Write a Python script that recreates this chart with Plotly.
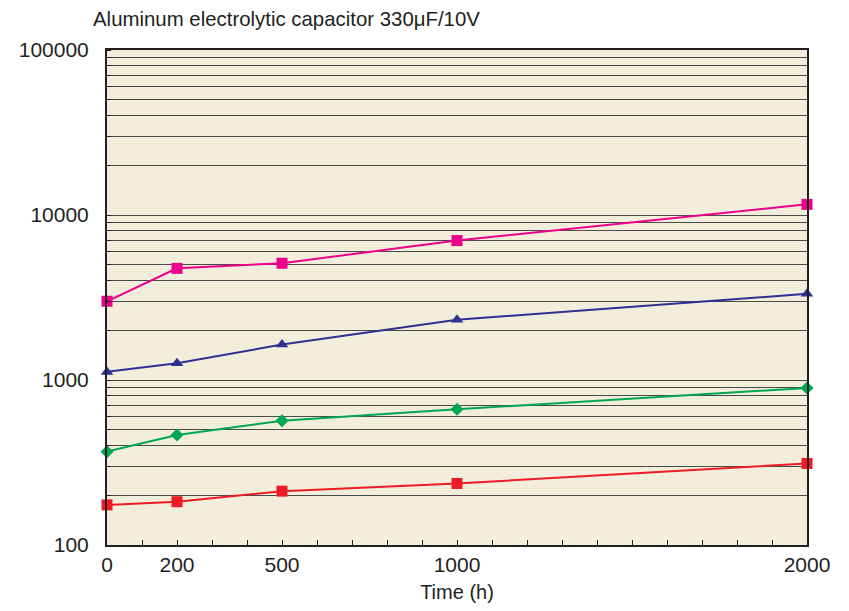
import plotly.graph_objects as go

time_h = [0, 200, 500, 1000, 2000]
series_magenta = [3000, 4750, 5100, 7000, 11600]
series_blue = [1120, 1265, 1640, 2320, 3330]
series_green = [368, 464, 566, 665, 895]
series_red = [175, 183, 212, 236, 312]

x_tick_vals = [0, 200, 500, 1000, 2000]
x_tick_text = ["0", "200", "500", "1000", "2000"]
y_tick_vals = [100, 1000, 10000, 100000]
y_tick_text = ["100", "1000", "10000", "100000"]

title_text = "Aluminum electrolytic capacitor 330μF/10V"
x_title = "Time (h)"

FONT = "Liberation Sans, Arial, Helvetica, sans-serif"
TXT = "#231F20"

# page body has an 8px default margin; compensate so the plot lands where the reference has it
W, H = 841, 603
OFF = 8

fig = go.Figure()

def add(y, color, symbol, size):
    fig.add_trace(go.Scatter(
        x=time_h, y=y, mode="lines+markers",
        line=dict(color=color, width=2),
        marker=dict(symbol=symbol, size=size, color=color, line=dict(width=0)),
        cliponaxis=False, showlegend=False,
    ))

add(series_magenta, "#EC008C", "square", 11)
add(series_blue, "#2E3192", "triangle-up", 11)
add(series_green, "#00A651", "diamond", 10)
add(series_red, "#ED1C24", "square", 11)

fig.update_layout(
    width=W, height=H,
    margin=dict(l=107 - OFF, r=42, t=50 - OFF, b=66, autoexpand=False),
    paper_bgcolor="white",
    plot_bgcolor="#F3EDDC",
    font=dict(family=FONT, size=21, color=TXT),
    title=dict(text=title_text, x=(93 - OFF) / W, xanchor="left", xref="container",
               y=1 - (19 - OFF) / H, yanchor="middle", pad=dict(l=0, r=0, t=0, b=0),
               font=dict(family=FONT, size=20.4, color=TXT)),
    showlegend=False,
)

fig.update_xaxes(
    range=[0, 2000], automargin=False,
    tickvals=x_tick_vals, ticktext=x_tick_text,
    ticks="inside", ticklen=5, tickcolor="#231F20", tickwidth=1,
    minor=dict(dtick=100, ticks="inside", ticklen=5, tickcolor="#231F20", tickwidth=1, showgrid=False),
    showgrid=False, zeroline=False,
    showline=True, linecolor="#231F20", linewidth=2, mirror=True,
    title=dict(text=x_title, standoff=10, font=dict(size=20)),
    tickfont=dict(size=21),
)

fig.update_yaxes(
    type="log", range=[2, 5], automargin=False,
    tickvals=y_tick_vals, ticktext=y_tick_text,
    ticks="",
    showgrid=True, gridcolor="#4a4a4a", gridwidth=1,
    minor=dict(dtick="D1", showgrid=True, gridcolor="#4a4a4a", gridwidth=1,
               ticks="inside", ticklen=4, tickcolor="#231F20"),
    zeroline=False,
    showline=True, linecolor="#231F20", linewidth=2, mirror=True,
    tickfont=dict(size=21),
    ticklabelstandoff=12,
)

fig.write_html("out.html")
